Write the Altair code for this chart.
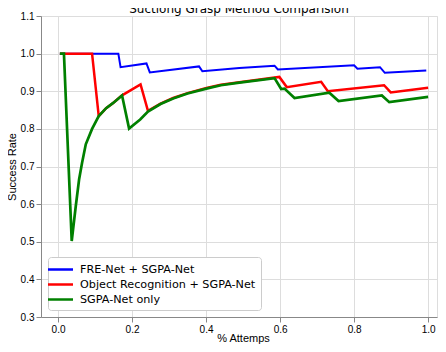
import altair as alt
import pandas as pd

series_names = ["FRE-Net + SGPA-Net", "Object Recognition + SGPA-Net", "SGPA-Net only"]
series_colors = ["#0000ff", "#ff0000", "#008000"]

blue_x = [0.005, 0.163, 0.169, 0.239, 0.248, 0.381, 0.390, 0.49, 0.585, 0.594, 0.80, 0.809, 0.87, 0.883, 0.995]
blue_y = [1.0, 1.0, 0.964, 0.974, 0.950, 0.966, 0.953, 0.962, 0.968, 0.958, 0.969, 0.960, 0.964, 0.949, 0.955]

red_x = [0.005, 0.092, 0.11, 0.13, 0.149, 0.173, 0.223, 0.243, 0.277, 0.311, 0.35, 0.401, 0.44, 0.49,
         0.598, 0.618, 0.711, 0.729, 0.881, 0.899, 1.0]
red_y = [1.0, 1.0, 0.834, 0.855, 0.869, 0.889, 0.918, 0.848, 0.867, 0.882, 0.895, 0.909, 0.917, 0.924,
         0.938, 0.911, 0.925, 0.900, 0.916, 0.897, 0.909]

green_x = [0.005, 0.016, 0.037, 0.048, 0.057, 0.065, 0.075, 0.092, 0.11, 0.13, 0.149, 0.173, 0.192,
           0.222, 0.243, 0.277, 0.311, 0.35, 0.401, 0.44, 0.49, 0.585, 0.603, 0.612, 0.639, 0.733,
           0.758, 0.875, 0.895, 1.0]
green_y = [1.0, 1.0, 0.502, 0.595, 0.666, 0.710, 0.759, 0.800, 0.834, 0.855, 0.869, 0.889, 0.801,
           0.825, 0.846, 0.866, 0.881, 0.894, 0.907, 0.916, 0.923, 0.935, 0.906, 0.907, 0.882, 0.896,
           0.874, 0.889, 0.871, 0.885]

x_ticks = [0.0, 0.2, 0.4, 0.6, 0.8, 1.0]
y_ticks = [0.3, 0.4, 0.5, 0.6, 0.7, 0.8, 0.9, 1.0, 1.1]

FONT = "DejaVu Sans"

def frame(xs, ys, name):
    return pd.DataFrame({"x": xs, "y": ys, "method": name, "order": range(len(xs))})

color_scale = alt.Scale(domain=series_names, range=series_colors)
x_enc = alt.X("x:Q", scale=alt.Scale(domain=[-0.046, 1.024], nice=False, zero=False),
              axis=alt.Axis(values=x_ticks, format=".1f", title="% Attemps",
                            titleX=202, titleY=24.5, titleBaseline="alphabetic",
                            titleFontWeight="normal"))
y_enc = alt.Y("y:Q", scale=alt.Scale(domain=[0.3, 1.1], nice=False, zero=False),
              axis=alt.Axis(values=y_ticks, format=".1f", title="Success Rate",
                            titleX=-25.5, titleY=150.5, titleAngle=-90, titleBaseline="alphabetic",
                            titleAlign="center", titleFontWeight="normal"))
legend = alt.Legend(title=None, orient="none", legendX=7, legendY=241,
                    symbolType="M-2,0H2", symbolSize=156.25, symbolStrokeWidth=2.5,
                    labelFontSize=11.2, labelFont=FONT, labelColor="black", labelOffset=12,
                    rowPadding=2, padding=5, strokeColor="#cccccc", fillColor="white",
                    cornerRadius=3, labelLimit=300)

layers = []
for xs, ys, name, sw in [(blue_x, blue_y, series_names[0], 2),
                         (red_x, red_y, series_names[1], 2.5),
                         (green_x, green_y, series_names[2], 2.7)]:
    layers.append(
        alt.Chart(frame(xs, ys, name)).mark_line(strokeWidth=sw).encode(
            x=x_enc, y=y_enc,
            color=alt.Color("method:N", scale=color_scale, legend=legend),
            order="order:Q",
        )
    )

chart = alt.layer(*layers).properties(
    width=396, height=301,
    autosize=alt.AutoSizeParams(type="none"),
    padding={"left": 33, "top": 8, "right": 1, "bottom": 27},
    title=alt.TitleParams("Suctiong Grasp Method Comparision", fontSize=12, font=FONT,
                          fontWeight="normal", color="black", anchor="middle", frame="group",
                          baseline="alphabetic", offset=0, dy=13.5),
).configure_view(stroke="black", strokeWidth=1).configure_axis(
    grid=False, domainColor="black", tickColor="black", labelColor="black", titleColor="black",
    tickSize=3.5, labelFontSize=10, labelFont=FONT, titleFont=FONT, titleFontSize=10,
    titleFontWeight="normal", labelPadding=3,
).configure(background="white")

chart.save("out.html", embed_options={"renderer": "svg", "actions": False})
